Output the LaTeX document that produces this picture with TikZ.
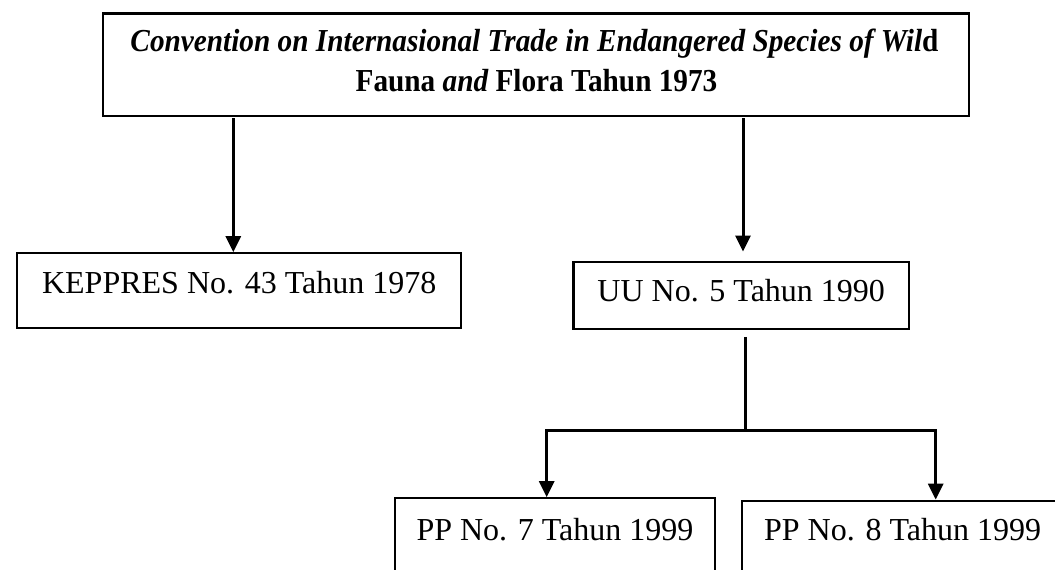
\documentclass[tikz,border=0pt]{standalone}
\usepackage{fontspec}
\setmainfont{Liberation Serif}
\usepackage{graphicx}
\usetikzlibrary{arrows.meta}
\begin{document}
\begin{tikzpicture}[x=1pt,y=-1pt,
  big/.style={font=\fontsize{32}{38}\selectfont},
  box/.style={draw, line width=2.2pt, inner sep=0pt, anchor=base, big},
  txt/.style={inner sep=0pt, anchor=base, big},
  conn/.style={line width=3pt, -{Triangle[width=15pt,length=16pt]}},
  plain/.style={line width=3pt}]
\useasboundingbox (0,0) rectangle (1055,570);
\clip (0,0) rectangle (1055,570);
\fill[white] (0,0) rectangle (1055,570);

% top box
\node[draw, line width=2.4pt, inner sep=0pt, minimum width=866pt, minimum height=102.4pt] (cites) at (535.7,64.5) {};
\node[txt] (t1) at (534.5,51.7) {\scalebox{0.915}[1]{\bfseries\itshape Convention on Internasional Trade in Endangered Species of Wil\upshape d}};
\node[txt] (t2) at (536.5,91.7) {\scalebox{0.915}[1]{\bfseries Fauna \itshape and \upshape Flora Tahun 1973}};

% second level
\node[box, minimum width=443.7pt, text height=40pt, text depth=34.4pt] (kep) at (239.2,293.3) {KEPPRES No. 43 Tahun 1978};
\node[box, minimum width=335.5pt, text height=40pt, text depth=27.6pt] (uu) at (741.2,301.7) {UU No. 5 Tahun 1990};

% third level
\node[box, minimum width=320pt, text height=42.2pt, text depth=60pt] (pp7) at (555,540.5) {PP No. 7 Tahun 1999};
\node[box, minimum width=321.3pt, text height=39.8pt, text depth=60pt] (pp8) at (902.6,540.5) {PP No. 8 Tahun 1999};

% connectors
\coordinate (c1) at (233.3,0);
\coordinate (c2) at (743,0);
\coordinate (j) at (745,430);
\coordinate (l) at (546.7,430);
\coordinate (r) at (935.7,430);

\draw[conn] ([yshift=-1.3pt]cites.south -| c1) -- (kep.north -| c1);
\draw[conn] ([yshift=-1.3pt]cites.south -| c2) -- ([yshift=9pt]uu.north -| c2);
\draw[plain] ([yshift=-6.4pt]uu.south -| j) -- (j);
\draw[conn] (j) -- (l) -- (pp7.north -| l);
\draw[conn] (j) -- (r) -- (pp8.north -| r);
\end{tikzpicture}
\end{document}
